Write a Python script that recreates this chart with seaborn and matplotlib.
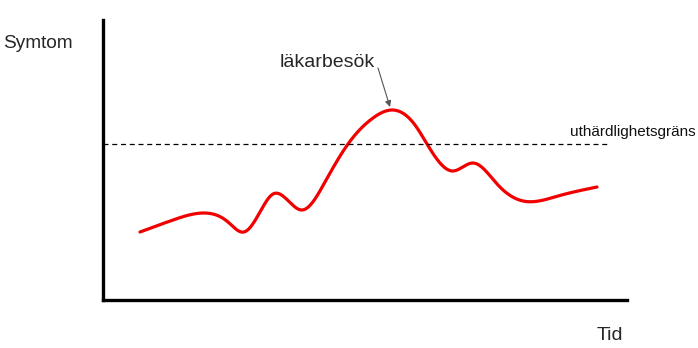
import numpy as np
import pandas as pd
import matplotlib
matplotlib.use("Agg")
import matplotlib.pyplot as plt
import seaborn as sns

# Data (time units, symptom level units)
tid = [37, 70, 100, 125, 141, 157, 170, 199, 222, 245, 270, 290, 312, 324,
       350, 370, 395, 420, 455, 494]
symtom = [68, 80, 87, 78, 68, 88, 106, 90, 118, 156, 182, 190, 175, 156,
          129, 137, 115, 99, 104, 113]
grans = 156
x_max, y_max = 524, 280


# Smooth drawing of the curve: natural cubic spline through the read points
def natural_spline(xs, ys, n=600):
    x = np.asarray(xs, float)
    y = np.asarray(ys, float)
    k = len(x)
    h = np.diff(x)
    A = np.zeros((k, k))
    b = np.zeros(k)
    A[0, 0] = A[-1, -1] = 1
    for i in range(1, k - 1):
        A[i, i - 1] = h[i - 1]
        A[i, i] = 2 * (h[i - 1] + h[i])
        A[i, i + 1] = h[i]
        b[i] = 6 * ((y[i + 1] - y[i]) / h[i] - (y[i] - y[i - 1]) / h[i - 1])
    M = np.linalg.solve(A, b)
    xx = np.linspace(x[0], x[-1], n)
    idx = np.clip(np.searchsorted(x, xx) - 1, 0, k - 2)
    x0, x1 = x[idx], x[idx + 1]
    hh = x1 - x0
    a = (x1 - xx) / hh
    c = (xx - x0) / hh
    yy = (a * y[idx] + c * y[idx + 1]
          + ((a ** 3 - a) * M[idx] + (c ** 3 - c) * M[idx + 1]) * hh ** 2 / 6)
    return xx, yy


sx, sy = natural_spline(tid, symtom)
df = pd.DataFrame({"tid": sx, "symtom": sy})

sns.set_style("white")
plt.rcParams["font.family"] = ["Liberation Sans", "DejaVu Sans"]

fig = plt.figure(figsize=(6.98, 3.48), dpi=100)
ax = fig.add_axes([103 / 698, 48 / 348, (627 - 103) / 698, (300 - 20) / 348])
sns.lineplot(data=df, x="tid", y="symtom", ax=ax, color="#f20000", linewidth=2.3,
             sort=False, estimator=None)
ax.plot([0, 505], [grans, grans], color="black", linewidth=0.9, linestyle=(0, (4, 3)))
ax.set_xlim(0, x_max)
ax.set_ylim(0, y_max)
ax.set_xticks([])
ax.set_yticks([])
ax.set_xlabel("")
ax.set_ylabel("")
for s in ["top", "right"]:
    ax.spines[s].set_visible(False)
for s in ["left", "bottom"]:
    ax.spines[s].set_linewidth(2.4)
    ax.spines[s].set_color("black")

fig.text(3 / 698, 1 - 44 / 348, "Symtom", fontsize=13.7, va="center", ha="left")
fig.text(597 / 698, 1 - 335 / 348, "Tid", fontsize=14, va="center", ha="left")
ax.text(467, grans + 5, "uthärdlighetsgräns", fontsize=11, va="bottom", ha="left",
        color="#111111")
ax.text(224, 229, "läkarbesök", fontsize=14, va="bottom", ha="center")
ax.annotate("", xy=(287, 193), xytext=(275, 232),
            arrowprops=dict(arrowstyle="-|>", color="#555555", lw=0.8,
                            mutation_scale=9, shrinkA=0, shrinkB=0))

fig.savefig("out.png", dpi=100)
